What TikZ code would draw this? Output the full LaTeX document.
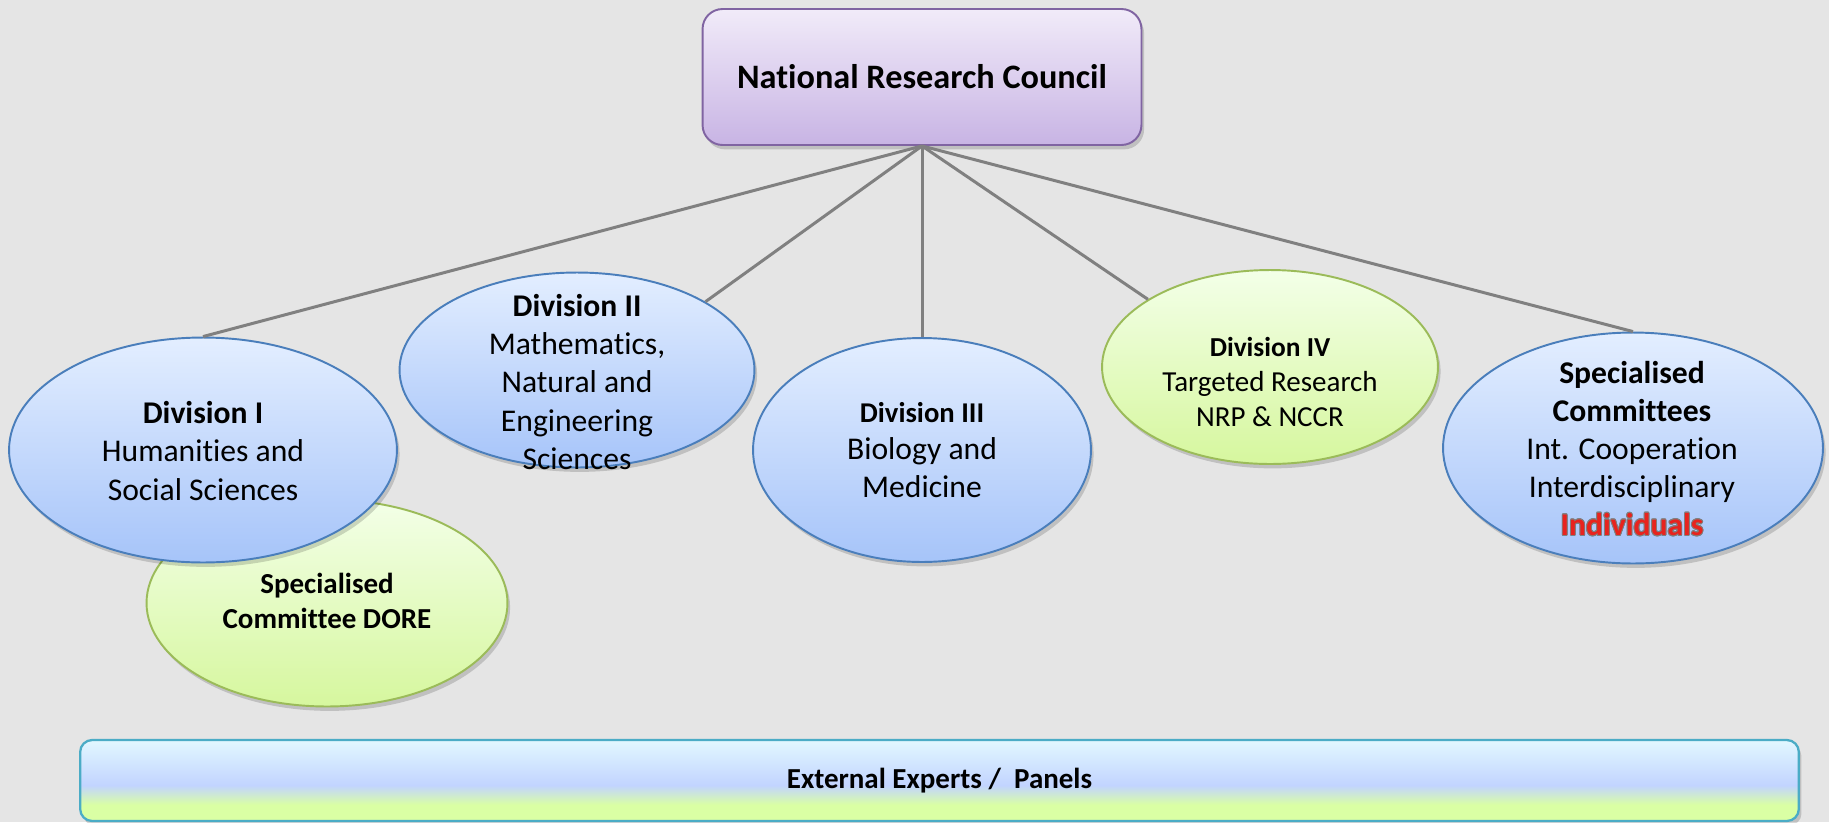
\documentclass[tikz,border=0pt]{standalone}
\usepackage{fontspec}
\setmainfont{Carlito}[Ligatures=NoCommon]
\usepackage{contour}
\usetikzlibrary{shapes.geometric, positioning, shadows}

\definecolor{bggray}{HTML}{E5E5E5}
\definecolor{linkgray}{HTML}{808080}
\definecolor{nrctop}{HTML}{F1EBF9}
\definecolor{nrcbot}{HTML}{C8B4E4}
\definecolor{nrcline}{HTML}{8064A2}
\definecolor{bluetop}{HTML}{E3EEFF}
\definecolor{bluebot}{HTML}{A6C4F9}
\definecolor{blueline}{HTML}{4A7EBB}
\definecolor{greentop}{HTML}{F3FFE8}
\definecolor{greenbot}{HTML}{D6F79E}
\definecolor{greenline}{HTML}{9BBB59}
\definecolor{barcyan}{HTML}{E2F8FF}
\definecolor{barblue}{HTML}{C2D4FF}
\definecolor{bargreen}{HTML}{DAFFA4}
\definecolor{barline}{HTML}{4BACC6}
\definecolor{indred}{HTML}{E8231E}

\pgfdeclareverticalshading{expertshade}{100bp}{color(0bp)=(bargreen); color(35bp)=(bargreen); color(47bp)=(barblue); color(75bp)=(barcyan); color(100bp)=(barcyan)}
\contourlength{0.45pt}

\begin{document}
\begin{tikzpicture}[x=0.02cm, y=-0.02cm,
    softshadow/.style={drop shadow={shadow xshift=1.5pt, shadow yshift=-2.5pt, opacity=.16, fill=black}},
    nrcbox/.style={rectangle, rounded corners=0.4cm, draw=nrcline, line width=1.1pt, top color=nrctop, bottom color=nrcbot, softshadow, font=\fontsize{19.5}{23}\selectfont\bfseries},
    division/.style={ellipse, draw=blueline, line width=1.1pt, top color=bluetop, bottom color=bluebot, softshadow},
    greendiv/.style={ellipse, draw=greenline, line width=1.1pt, top color=greentop, bottom color=greenbot, softshadow},
    expertbar/.style={rectangle, rounded corners=0.24cm, draw=barline, line width=1.3pt, shade, shading=expertshade, softshadow, font=\fontsize{16.5}{20}\selectfont\bfseries},
    txt/.style={align=center, inner sep=0pt, font=\fontsize{18}{21.8}\selectfont},
    smalltxt/.style={align=center, inner sep=0pt, font=\fontsize{16.5}{19.8}\selectfont},
    link/.style={draw=linkgray, line width=1.7pt}]

    \useasboundingbox (0,0) rectangle (1829,822);
    \fill[bggray] (0,0) rectangle (1829,822);

    \node[nrcbox, minimum width=8.78cm, minimum height=2.72cm] (nrc) at (922,77) {National Research Council};

    \node[greendiv, minimum width=7.22cm, minimum height=4.14cm] (dore) at (327,603) {};
    \node[division, minimum width=7.76cm, minimum height=4.5cm] (div1) at (203,450) {};
    \node[division, minimum width=7.1cm, minimum height=3.9cm] (div2) at (577,370) {};
    \node[division, minimum width=6.76cm, minimum height=4.48cm] (div3) at (922,450) {};
    \node[greendiv, minimum width=6.72cm, minimum height=3.88cm] (div4) at (1270,367) {};
    \node[division, minimum width=7.6cm, minimum height=4.62cm] (spec) at (1633,448) {};

    \node[expertbar, minimum width=34.38cm, minimum height=1.62cm] (experts) at (939.5,780.5) {External Experts /~ Panels};

    % texts inside the ellipses
    \node[smalltxt, font=\fontsize{16.5}{19.8}\selectfont\bfseries] (dore-t) at (327,601) {Specialised\\Committee DORE};
    \node[txt] (div1-t) at (203,451) {\textbf{Division I}\\Humanities and\\Social Sciences};
    \node[txt] (div2-t) at (577,382) {\textbf{Division II}\\Mathematics,\\Natural and\\Engineering\\Sciences};
    \node[txt, font=\fontsize{18}{21.3}\selectfont] (div3-t) at (922,450) {{\fontsize{16.3}{19}\selectfont\textbf{Division III}}\\Biology and\\Medicine};
    \node[smalltxt] (div4-t) at (1270,382) {{\fontsize{15.6}{19}\selectfont\textbf{Division IV}}\\Targeted Research\\NRP \& NCCR};
    \node[txt, font=\fontsize{18}{21.6}\selectfont] (spec-t) at (1632,449) {\textbf{Specialised}\\\textbf{Committees}\\Int. Cooperation\\Interdisciplinary\\\contour{gray}{\textcolor{indred}{\textbf{Individuals}}}};

    \path[link]
    (nrc.south) edge (div1.north)
    (nrc.south) edge (div2.28)
    (nrc.south) edge (div3.north)
    (nrc.south) edge (div4.151)
    (nrc.south) edge (spec.north);

\end{tikzpicture}
\end{document}
